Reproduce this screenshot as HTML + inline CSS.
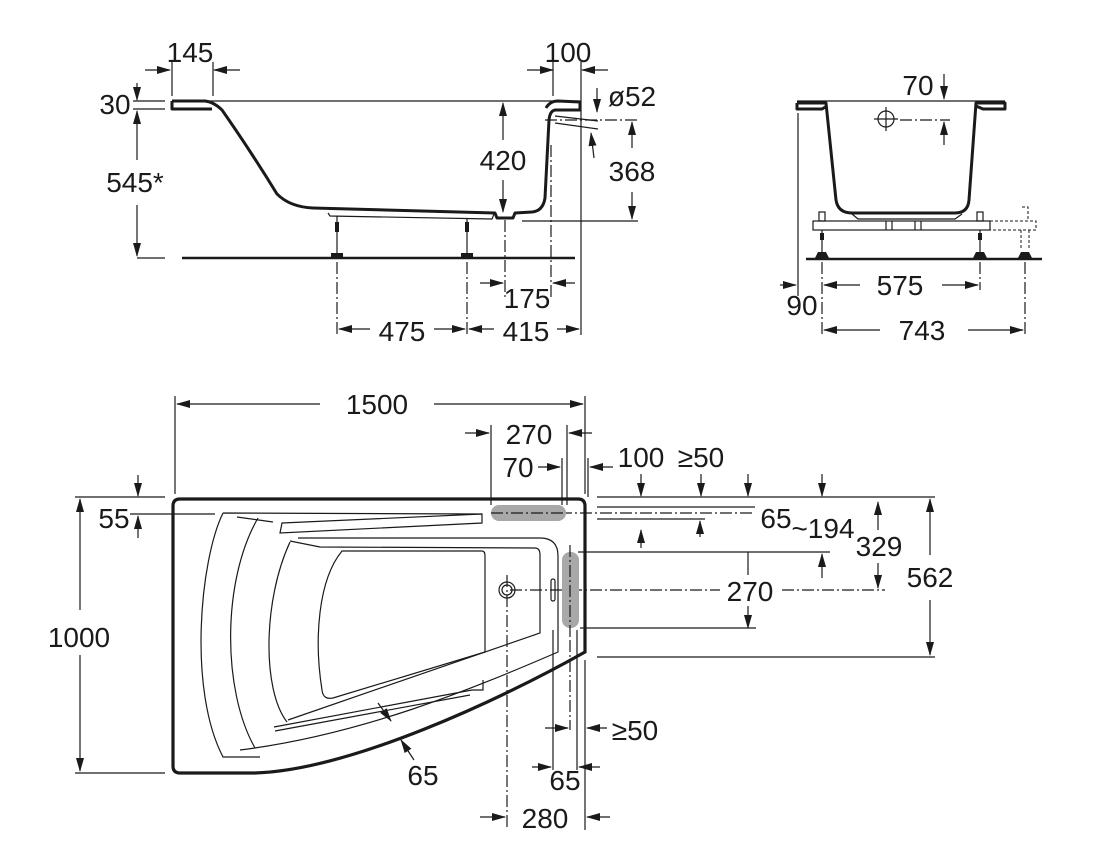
<!DOCTYPE html>
<html><head><meta charset="utf-8"><style>
html,body{margin:0;padding:0;background:#fff;}
svg{display:block;}
text{font-family:"Liberation Sans",Arial,sans-serif;font-size:28px;fill:#1a1a1a;text-anchor:middle;}
.t{stroke:#1a1a1a;stroke-width:1.2;fill:none;}
.k{stroke:#1a1a1a;stroke-width:3;fill:none;stroke-linejoin:round;}
.d{stroke:#1a1a1a;stroke-width:1.2;fill:none;stroke-dasharray:12 3 2 3;}
.a{stroke:#1a1a1a;stroke-width:1.2;fill:none;marker-end:url(#ar);}
</style></head><body>
<svg width="1110" height="858" viewBox="0 0 1110 858" xmlns="http://www.w3.org/2000/svg">
<defs><marker id="ar" markerWidth="14" markerHeight="8" refX="13" refY="4" orient="auto" markerUnits="userSpaceOnUse"><path d="M0,0 L14,4 L0,8 z" fill="#1a1a1a"/></marker></defs>

<!-- ===== SIDE VIEW ===== -->
<line class="t" x1="172" y1="101" x2="580" y2="101"/>
<path class="k" d="M172,101 L205,101 Q214,102 222,110 Q250,150 277,194 Q290,207 313,208 L495,213 L497,218 L513,218 L515,213 L532,212 Q543,211 545,198 L549,120 Q550,110 556,110 L580,110 L580,102 L558,101 Q550,101 546,108"/>
<path class="k" d="M172,101 L172,109 L212,109"/>
<path class="t" d="M328,213 L330,216 L492,219 L494,214"/>
<path class="t" d="M555,116 L598,121 M555,123 L598,129"/>
<g class="t"><line x1="337" y1="216" x2="337" y2="256"/><line x1="467" y1="218" x2="467" y2="256"/></g>
<g stroke="#1a1a1a" stroke-width="4"><line x1="337" y1="222" x2="337" y2="232"/><line x1="467" y1="222" x2="467" y2="232"/></g>
<rect x="331" y="253" width="12" height="5" fill="#1a1a1a"/><rect x="461" y="253" width="12" height="5" fill="#1a1a1a"/>
<line x1="182" y1="258" x2="575" y2="258" stroke="#1a1a1a" stroke-width="2.5"/>
<!-- side dims -->
<line class="a" x1="145" y1="70" x2="170" y2="70"/><line class="a" x1="240" y1="70" x2="214" y2="70"/>
<line class="t" x1="172" y1="62" x2="172" y2="96"/><line class="t" x1="213" y1="62" x2="213" y2="96"/>
<text x="190" y="62">145</text>
<line class="a" x1="527" y1="70" x2="553" y2="70"/><line class="a" x1="608" y1="70" x2="582" y2="70"/>
<line class="t" x1="553" y1="62" x2="553" y2="96"/><line class="t" x1="581" y1="62" x2="581" y2="335"/>
<text x="568" y="62">100</text>
<text x="115" y="114">30</text>
<line class="t" x1="133" y1="101" x2="165" y2="101"/><line class="t" x1="133" y1="109" x2="165" y2="109"/>
<line class="a" x1="137" y1="83" x2="137" y2="100"/>
<line class="t" x1="137" y1="258" x2="165" y2="258"/>
<line class="a" x1="137" y1="160" x2="137" y2="111"/><line class="a" x1="137" y1="205" x2="137" y2="256"/>
<rect x="108" y="166" width="58" height="30" fill="#fff"/><text x="135" y="192">545*</text>
<line class="a" x1="503" y1="140" x2="503" y2="103"/><line class="a" x1="503" y1="180" x2="503" y2="212"/>
<text x="503" y="170">420</text>
<text x="632" y="106">ø52</text>
<line class="a" x1="597" y1="88" x2="597" y2="112"/><line class="a" x1="594" y1="158" x2="591" y2="133"/>
<line class="d" x1="545" y1="120" x2="638" y2="120"/>
<line class="t" x1="522" y1="221" x2="638" y2="221"/>
<line class="a" x1="632" y1="148" x2="632" y2="122"/><line class="a" x1="632" y1="192" x2="632" y2="219"/>
<text x="632" y="181">368</text>
<line class="d" x1="505" y1="220" x2="505" y2="300"/><line class="d" x1="551" y1="145" x2="551" y2="300"/>
<line class="a" x1="480" y1="283" x2="503" y2="283"/><line class="a" x1="575" y1="283" x2="553" y2="283"/>
<text x="527" y="308">175</text>
<line class="d" x1="337" y1="262" x2="337" y2="336"/><line class="d" x1="467" y1="262" x2="467" y2="336"/>
<line class="a" x1="370" y1="329" x2="339" y2="329"/><line class="a" x1="434" y1="329" x2="465" y2="329"/>
<text x="402" y="341">475</text>
<line class="a" x1="494" y1="329" x2="469" y2="329"/><line class="a" x1="557" y1="329" x2="579" y2="329"/>
<text x="526" y="341">415</text>

<!-- ===== END VIEW ===== -->
<path class="k" d="M797,103 L826,103 L836,200 Q838,213 852,213 L955,213 Q968,213 969,200 L976,103 L1005,103 L1005,109 L983,109 L976,106"/>
<path class="k" d="M797,103 L797,109 L822,109 L827,106"/>
<line class="t" x1="797" y1="101" x2="1005" y2="101"/>
<path class="t" d="M852,214 L858,219 L955,219 L962,214"/>
<rect x="813" y="221" width="177" height="9" class="t"/>
<line class="t" x1="886" y1="221" x2="886" y2="230"/><line class="t" x1="892" y1="221" x2="892" y2="230"/>
<line class="t" x1="915" y1="221" x2="915" y2="230"/><line class="t" x1="921" y1="221" x2="921" y2="230"/>
<g class="t"><rect x="819" y="212" width="6" height="9"/><rect x="977" y="212" width="6" height="9"/>
<line x1="822" y1="230" x2="822" y2="254"/><line x1="980" y1="230" x2="980" y2="254"/></g>
<g stroke="#1a1a1a" stroke-width="4"><line x1="822" y1="233" x2="822" y2="240"/><line x1="980" y1="233" x2="980" y2="240"/></g>
<path d="M815,258 L818,252 L826,252 L829,258Z M973,258 L976,252 L984,252 L987,258Z M1018,258 L1021,252 L1029,252 L1032,258Z" fill="#1a1a1a"/>
<path d="M990,221 L1036,221 L1036,230 L990,230 M1021,230 L1021,250 M1029,230 L1029,250 M1022,207 L1028,207 L1028,221" fill="none" stroke="#1a1a1a" stroke-width="1" stroke-dasharray="3 2"/>
<line x1="806" y1="259" x2="1042" y2="259" stroke="#1a1a1a" stroke-width="2.5"/>
<line class="t" x1="798" y1="113" x2="798" y2="296"/>
<text x="918" y="95">70</text>
<line class="a" x1="944" y1="74" x2="944" y2="99"/>
<circle cx="886" cy="119" r="8" class="t"/>
<line class="t" x1="874" y1="119" x2="898" y2="119"/><line class="t" x1="886" y1="107" x2="886" y2="131"/>
<line class="d" x1="900" y1="120" x2="950" y2="120"/>
<line class="a" x1="944" y1="145" x2="944" y2="122"/>
<line class="d" x1="822" y1="262" x2="822" y2="336"/><line class="d" x1="980" y1="262" x2="980" y2="290"/><line class="d" x1="1025" y1="262" x2="1025" y2="336"/>
<line class="a" x1="780" y1="285" x2="796" y2="285"/>
<line class="a" x1="860" y1="285" x2="824" y2="285"/><line class="a" x1="942" y1="285" x2="978" y2="285"/>
<text x="900" y="295">575</text>
<text x="802" y="315">90</text>
<line class="a" x1="880" y1="330" x2="824" y2="330"/><line class="a" x1="968" y1="330" x2="1023" y2="330"/>
<text x="922" y="340">743</text>

<!-- ===== PLAN VIEW ===== -->
<line class="t" x1="175" y1="396" x2="175" y2="494"/><line class="t" x1="585" y1="396" x2="585" y2="494"/>
<line class="a" x1="320" y1="404" x2="177" y2="404"/><line class="a" x1="434" y1="404" x2="583" y2="404"/>
<text x="377" y="414">1500</text>
<line class="t" x1="491" y1="425" x2="491" y2="505"/><line class="t" x1="567" y1="425" x2="567" y2="505"/>
<line class="a" x1="465" y1="433" x2="489" y2="433"/><line class="a" x1="592" y1="433" x2="569" y2="433"/>
<text x="529" y="444">270</text>
<text x="518" y="477">70</text><line class="a" x1="538" y1="467" x2="560" y2="467"/>
<line class="t" x1="562" y1="458" x2="562" y2="505"/>
<line class="a" x1="613" y1="467" x2="590" y2="467"/><line class="t" x1="588" y1="458" x2="588" y2="497"/>
<text x="641" y="467">100</text><text x="701" y="467">≥50</text>
<line class="a" x1="641" y1="474" x2="641" y2="496"/><line class="a" x1="701" y1="474" x2="701" y2="496"/>
<line class="a" x1="748" y1="474" x2="748" y2="496"/><line class="a" x1="822" y1="474" x2="822" y2="496"/>
<line class="t" x1="597" y1="497" x2="935" y2="497"/>
<line class="t" x1="597" y1="507" x2="755" y2="507"/>
<line class="d" x1="560" y1="513" x2="755" y2="513"/>
<line class="t" x1="597" y1="519" x2="705" y2="519"/>
<line class="a" x1="700" y1="537" x2="700" y2="521"/><line class="a" x1="641" y1="548" x2="641" y2="530"/>
<text x="776" y="528">65</text><text x="823" y="538">~194</text>
<line class="t" x1="578" y1="552" x2="830" y2="552"/>
<line class="a" x1="878" y1="530" x2="878" y2="502"/><line class="a" x1="878" y1="563" x2="878" y2="588"/>
<text x="879" y="556">329</text>
<line class="a" x1="822" y1="578" x2="822" y2="554"/>
<line class="d" x1="510" y1="590" x2="720" y2="590"/><line class="d" x1="782" y1="590" x2="885" y2="590"/>
<text x="750" y="601">270</text>
<line class="a" x1="748" y1="606" x2="748" y2="628"/><line class="t" x1="748" y1="552" x2="748" y2="575"/>
<line class="t" x1="580" y1="628" x2="756" y2="628"/>
<line class="t" x1="597" y1="657" x2="935" y2="657"/>
<line class="a" x1="930" y1="555" x2="930" y2="499"/><line class="a" x1="930" y1="600" x2="930" y2="655"/>
<text x="930" y="587">562</text>
<!-- left -->
<line class="t" x1="75" y1="497" x2="165" y2="497"/><line class="t" x1="75" y1="773" x2="165" y2="773"/>
<line class="t" x1="130" y1="514" x2="215" y2="514"/>
<line class="a" x1="80" y1="610" x2="80" y2="499"/><line class="a" x1="80" y1="655" x2="80" y2="771"/>
<text x="79" y="647">1000</text>
<line class="a" x1="138" y1="475" x2="138" y2="496"/><line class="a" x1="138" y1="538" x2="138" y2="516"/>
<text x="114" y="528">55</text>
<!-- tub outline -->
<path d="M180,499 L578,499 Q585,499 585,506 L585,652 C500,700 350,770 255,773 L180,773 Q173,773 173,766 L173,506 Q173,499 180,499 Z" fill="none" stroke="#1a1a1a" stroke-width="3.2"/>
<rect x="491" y="505" width="75" height="16" rx="8" fill="#a8a8a8"/>
<rect x="562" y="552" width="17" height="76" rx="8" fill="#a8a8a8"/>
<line class="d" x1="491" y1="513" x2="566" y2="513"/>
<line class="d" x1="570" y1="545" x2="570" y2="640"/>
<g class="t">
<path d="M223,513 L482,514 M223,513 C200,560 188,690 223,757 L260,757"/>
<path d="M237,517 L273,522"/>
<path d="M282,523 L482,514 L482,523 L280,533 Z"/>
<path d="M258,518 C222,580 222,690 255,748"/>
<path d="M298,538 L540,538 Q558,538 558,556 L558,652 C470,690 360,735 240,750"/>
<path d="M290,542 C263,600 262,690 287,722"/>
<path d="M290,541 L320,547 L535,548 Q540,548 540,555 L540,633 L288,720"/>
<path d="M342,551 L482,551 Q485,551 485,556 L485,652 L333,698 Q323,700 322,690 C314,640 318,580 342,551 Z"/>
<path d="M274,727 L472,690 L483,690 L483,680"/>
<path d="M275,731 L470,695"/>
<circle cx="507" cy="590" r="8"/><circle cx="507" cy="590" r="5"/>
<rect x="551" y="579" width="4" height="22" rx="2"/>
</g>
<line class="d" x1="507" y1="575" x2="507" y2="830"/>
<line class="a" x1="378" y1="703" x2="391" y2="721"/>
<line class="a" x1="414" y1="760" x2="401" y2="740"/>
<text x="423" y="785">65</text>
<line class="t" x1="553" y1="630" x2="553" y2="770"/><line class="t" x1="577" y1="630" x2="577" y2="770"/>
<line class="t" x1="585" y1="660" x2="585" y2="830"/><line class="d" x1="570" y1="640" x2="570" y2="730"/>
<line class="a" x1="545" y1="728" x2="568" y2="728"/><line class="a" x1="607" y1="728" x2="587" y2="728"/>
<text x="635" y="740">≥50</text>
<line class="a" x1="532" y1="767" x2="551" y2="767"/><line class="a" x1="600" y1="767" x2="579" y2="767"/>
<text x="565" y="790">65</text>
<line class="a" x1="480" y1="817" x2="505" y2="817"/><line class="a" x1="610" y1="817" x2="587" y2="817"/>
<text x="545" y="828">280</text>
</svg>
</body></html>
